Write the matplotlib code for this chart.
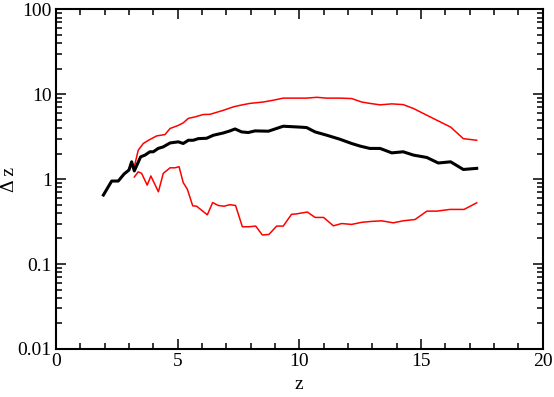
import numpy as np
import matplotlib
matplotlib.use('Agg')
import matplotlib.pyplot as plt
from matplotlib.ticker import FixedLocator, FixedFormatter, MultipleLocator

plt.rcParams['font.family'] = ['Liberation Serif', 'DejaVu Serif']

# mean dz
z_mid = [1.95, 2.29, 2.56, 2.8, 3.0, 3.11, 3.22, 3.48, 3.66, 3.86, 4.0, 4.2, 4.41, 4.69,
         5.03, 5.23, 5.44, 5.64, 5.85, 6.19, 6.47, 6.88, 7.15, 7.36, 7.63, 7.9, 8.18,
         8.73, 9.34, 10.03, 10.3, 10.65, 11.13, 11.67, 12.15, 12.5, 12.9, 13.32, 13.8,
         14.27, 14.69, 15.24, 15.71, 16.22, 16.74, 17.29]
dz_mid = [0.65, 0.95, 0.95, 1.15, 1.28, 1.6, 1.25, 1.83, 1.92, 2.1, 2.1, 2.3, 2.4, 2.67,
          2.75, 2.63, 2.87, 2.87, 3.0, 3.03, 3.29, 3.5, 3.7, 3.9, 3.6, 3.54, 3.7,
          3.67, 4.2, 4.1, 4.05, 3.6, 3.29, 2.95, 2.63, 2.45, 2.3, 2.3, 2.04,
          2.1, 1.92, 1.8, 1.55, 1.6, 1.3, 1.34]

# upper envelope
z_hi = [3.22, 3.38, 3.59, 3.8, 4.14, 4.48, 4.69, 5.03, 5.23, 5.44, 5.71, 6.05, 6.33,
        6.88, 7.29, 7.56, 7.97, 8.52, 8.93, 9.34, 10.03, 10.3, 10.72, 11.13, 11.67,
        12.15, 12.56, 12.9, 13.32, 13.8, 14.27, 14.69, 15.24, 15.71, 16.22, 16.74, 17.29]
dz_hi = [1.4, 2.19, 2.63, 2.87, 3.23, 3.35, 3.95, 4.3, 4.6, 5.2, 5.4, 5.77, 5.8,
         6.47, 7.1, 7.4, 7.8, 8.1, 8.5, 9.0, 9.0, 9.0, 9.2, 9.0, 9.0,
         8.9, 8.1, 7.8, 7.5, 7.7, 7.55, 6.8, 5.66, 4.85, 4.1, 3.0, 2.87]

# lower envelope
z_lo = [3.22, 3.38, 3.52, 3.75, 3.9, 4.21, 4.41, 4.69, 4.89, 5.06, 5.23, 5.4, 5.62,
        5.78, 6.22, 6.44, 6.67, 6.9, 7.15, 7.38, 7.66, 7.93, 8.21, 8.48, 8.75, 9.07,
        9.34, 9.68, 9.89, 10.33, 10.65, 11.0, 11.4, 11.74, 12.15, 12.56, 12.97, 13.39,
        13.86, 14.27, 14.76, 15.24, 15.65, 16.19, 16.77, 17.29]
dz_lo = [1.06, 1.22, 1.17, 0.85, 1.09, 0.71, 1.17, 1.36, 1.36, 1.4, 0.91, 0.76, 0.485,
         0.48, 0.38, 0.53, 0.49, 0.48, 0.5, 0.49, 0.275, 0.275, 0.28, 0.22, 0.223, 0.28,
         0.28, 0.385, 0.39, 0.41, 0.354, 0.354, 0.282, 0.30, 0.293, 0.31, 0.318, 0.323,
         0.306, 0.323, 0.335, 0.42, 0.42, 0.44, 0.44, 0.526]

fig = plt.figure(figsize=(5.54, 3.97), dpi=100)
ax = fig.add_axes([0.101, 0.121, 0.8785, 0.8555])

ax.plot(z_hi, dz_hi, color='#ff0000', lw=1.1)
ax.plot(z_lo, dz_lo, color='#ff0000', lw=1.1)
ax.plot(z_mid, dz_mid, color='black', lw=2.2)

ax.set_yscale('log')
ax.set_xlim(0, 20)
ax.set_ylim(0.01, 100)

ax.xaxis.set_major_locator(MultipleLocator(5))
ax.xaxis.set_minor_locator(MultipleLocator(1))
yt = [0.01, 0.1, 1, 10, 100]
ax.yaxis.set_major_locator(FixedLocator(yt))
ax.yaxis.set_major_formatter(FixedFormatter(['0.01', '0.1', '1', '10', '100']))
ax.yaxis.set_minor_locator(FixedLocator([m * d for d in [0.01, 0.1, 1, 10] for m in range(2, 10)]))
ax.yaxis.set_minor_formatter(FixedFormatter([]))

ax.tick_params(which='both', direction='in', top=True, right=True, labelsize=14, width=1.1)
ax.tick_params(which='major', length=7, pad=3)
ax.tick_params(which='minor', length=4)
for s in ax.spines.values():
    s.set_linewidth(1.5)

ax.set_xlabel('z', fontsize=14, labelpad=4)
ax.set_ylabel('Δ z', fontsize=14)
ax.yaxis.set_label_coords(-0.078, 0.5)

plt.savefig('out.png', dpi=100)
